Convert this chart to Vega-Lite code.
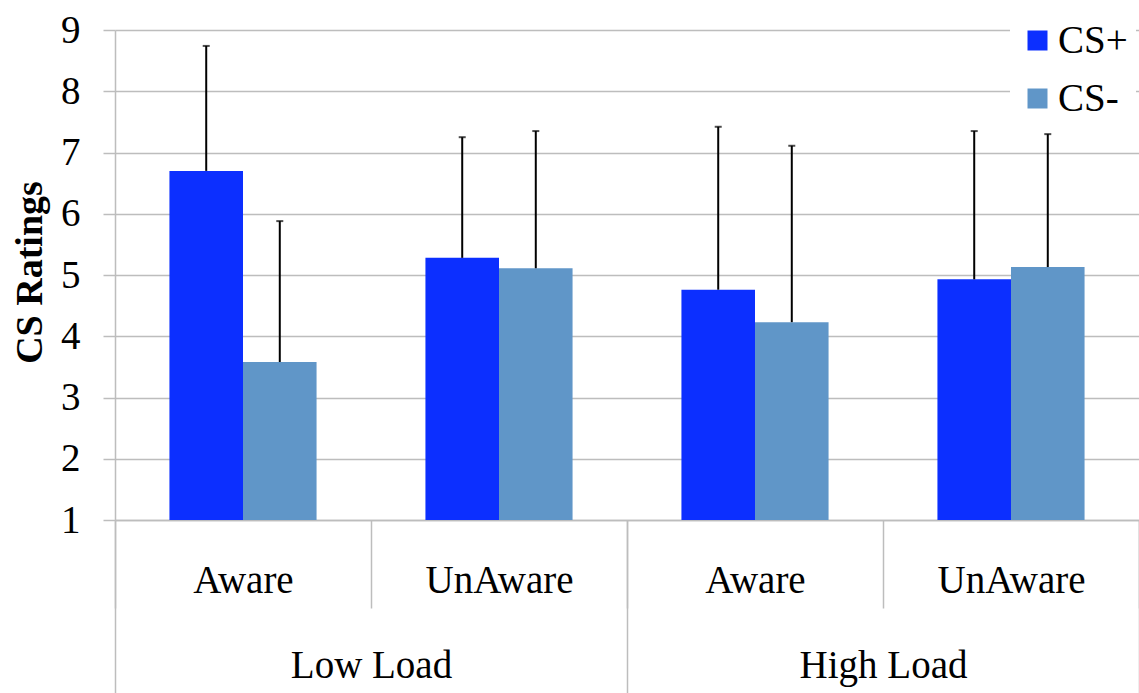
{
  "$schema": "https://vega.github.io/schema/vega-lite/v6.json",
  "width": 1024,
  "height": 490,
  "autosize": {"type": "none"},
  "padding": {"left": 115, "top": 30, "right": 0, "bottom": 173},
  "background": "white",
  "data": {
    "values": [
      {"load": "Low Load", "aware": "Aware", "cell": "Low Load|Aware", "series": "CS+", "value": 6.70, "upper": 8.74},
      {"load": "Low Load", "aware": "Aware", "cell": "Low Load|Aware", "series": "CS-", "value": 3.58, "upper": 5.88},
      {"load": "Low Load", "aware": "UnAware", "cell": "Low Load|UnAware", "series": "CS+", "value": 5.28, "upper": 7.25},
      {"load": "Low Load", "aware": "UnAware", "cell": "Low Load|UnAware", "series": "CS-", "value": 5.11, "upper": 7.35},
      {"load": "High Load", "aware": "Aware", "cell": "High Load|Aware", "series": "CS+", "value": 4.76, "upper": 7.42},
      {"load": "High Load", "aware": "Aware", "cell": "High Load|Aware", "series": "CS-", "value": 4.23, "upper": 7.11},
      {"load": "High Load", "aware": "UnAware", "cell": "High Load|UnAware", "series": "CS+", "value": 4.93, "upper": 7.35},
      {"load": "High Load", "aware": "UnAware", "cell": "High Load|UnAware", "series": "CS-", "value": 5.13, "upper": 7.30}
    ]
  },
  "layer": [
    {
      "encoding": {
        "x": {
          "field": "cell",
          "type": "nominal",
          "sort": ["Low Load|Aware", "Low Load|UnAware", "High Load|Aware", "High Load|UnAware"],
          "scale": {"paddingInner": 0, "paddingOuter": 0},
          "axis": {
            "title": null,
            "orient": "bottom",
            "labelExpr": "split(datum.value, '|')[1]",
            "labelAngle": 0,
            "tickBand": "extent",
            "tickSize": 88,
            "labelPadding": -28,
            "labelBaseline": "middle",
            "domain": true
          }
        },
        "xOffset": {
          "field": "series",
          "type": "nominal",
          "sort": ["CS+", "CS-"],
          "scale": {"paddingInner": 0, "paddingOuter": 0.74}
        }
      },
      "layer": [
        {
          "mark": {"type": "bar"},
          "encoding": {
            "y": {
              "field": "value",
              "type": "quantitative",
              "scale": {"domain": [1, 9], "zero": false, "nice": false},
              "axis": {
                "title": "CS Ratings",
                "values": [1, 2, 3, 4, 5, 6, 7, 8, 9],
                "format": "d",
                "grid": true,
                "tickSize": 12,
                "labelPadding": 23,
                "titleFont": "Liberation Serif",
                "titleFontSize": 38,
                "titleFontWeight": "bold",
                "titleColor": "black",
                "titleX": -74,
                "titleY": 242,
                "titleAngle": -90,
                "titleAlign": "center",
                "titleBaseline": "alphabetic"
              }
            },
            "y2": {"datum": 1},
            "color": {
              "field": "series",
              "type": "nominal",
              "sort": ["CS+", "CS-"],
              "scale": {"domain": ["CS+", "CS-"], "range": ["#0c2fff", "#6096c8"]},
              "legend": {
                "title": null,
                "orient": "none",
                "legendX": 895,
                "legendY": -17,
                "padding": 8,
                "fillColor": "white",
                "symbolType": "square",
                "symbolSize": 400,
                "symbolStrokeWidth": 0,
                "symbolOpacity": 1,
                "labelFont": "Liberation Serif",
                "labelFontSize": 39,
                "labelColor": "black",
                "labelOffset": 1,
                "rowPadding": 18
              }
            }
          }
        },
        {
          "mark": {"type": "rule", "color": "black", "strokeWidth": 2},
          "encoding": {
            "y": {"field": "value", "type": "quantitative"},
            "y2": {"field": "upper"}
          }
        },
        {
          "mark": {"type": "tick", "color": "black", "thickness": 2, "size": 7, "orient": "horizontal"},
          "encoding": {
            "y": {"field": "upper", "type": "quantitative"}
          }
        }
      ]
    },
    {
      "mark": {"type": "rule", "opacity": 0},
      "encoding": {
        "x": {
          "field": "load",
          "type": "nominal",
          "sort": ["Low Load", "High Load"],
          "scale": {"paddingInner": 0, "paddingOuter": 0},
          "axis": {
            "title": null,
            "orient": "bottom",
            "labelAngle": 0,
            "tickBand": "extent",
            "tickSize": 173,
            "labelPadding": -28,
            "labelBaseline": "middle",
            "domain": false
          }
        }
      }
    }
  ],
  "resolve": {"scale": {"x": "independent"}, "axis": {"x": "independent"}},
  "config": {
    "view": {"stroke": null},
    "axis": {
      "labelFont": "Liberation Serif",
      "labelFontSize": 39,
      "labelColor": "black",
      "domainColor": "#bdbdbd",
      "domainWidth": 1.5,
      "tickColor": "#bdbdbd",
      "tickWidth": 1.5,
      "gridColor": "#bdbdbd",
      "gridWidth": 1.5
    }
  }
}
